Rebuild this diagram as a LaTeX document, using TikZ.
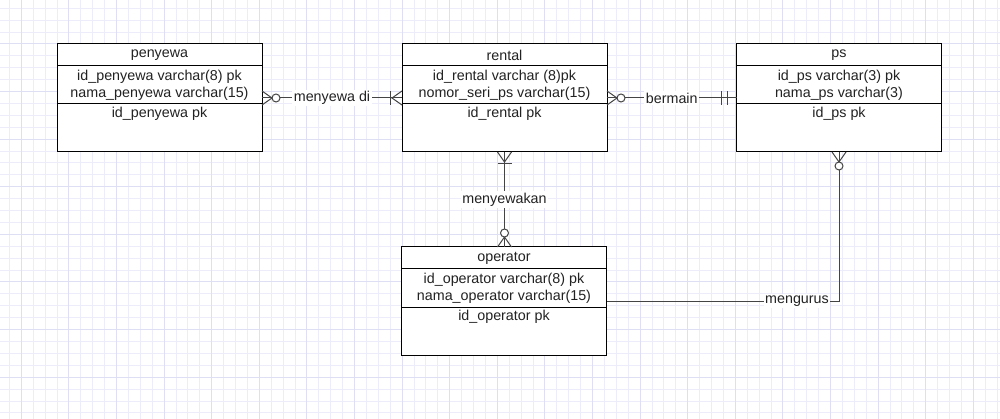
\documentclass[tikz,border=0pt]{standalone}
\usepackage{fontspec}
\setmainfont{Liberation Sans}
\usetikzlibrary{calc}
\definecolor{gridminor}{RGB}{236,236,250}
\definecolor{gridmajor}{RGB}{222,222,244}
\definecolor{ink}{RGB}{34,34,34}
\definecolor{connc}{RGB}{68,68,68}
\tikzset{
  txt/.style={font=\fontsize{14.3}{17}\selectfont, text=ink, align=center, inner sep=0pt},
  entity/.style={draw=black, fill=white, line width=1pt, minimum width=205pt, minimum height=108pt, inner sep=0pt, outer sep=0pt},
  box/.style={draw=black, line width=1pt},
  conn/.style={draw=connc, line width=1pt},
  lbl/.style={txt, fill=white, inner sep=1.5pt},
  zmany/.pic={\draw[conn] (0,-7) -- (10,0) -- (0,7); \draw[conn, fill=white] (14,0) circle (4pt);},
  omany/.pic={\draw[conn] (0,-7) -- (10,0) -- (0,7); \draw[conn] (12,-7) -- (12,7);},
  mone/.pic={\draw[conn] (9,-7) -- (9,7); \draw[conn] (15,-7) -- (15,7);}
}
\newcommand\erentity[5]{%
  \node[entity] (#1) at (#2) {};
  \draw[box] ($(#1.north west)+(0,22)$) -- ($(#1.north east)+(0,22)$);
  \draw[box] ($(#1.north west)+(0,60)$) -- ($(#1.north east)+(0,60)$);
  \node[txt] (#1-title) at ($(#1.north)+(0,11)$) {#3};
  \node[txt] (#1-fields) at ($(#1.north)+(0,41)$) {#4};
  \node[txt] (#1-key) at ($(#1.north)+(0,70)$) {#5};
}
\begin{document}
\begin{tikzpicture}[x=1pt, y=-1pt]
  \useasboundingbox (0,0) rectangle (1000,419);
  \fill[white] (0,0) rectangle (1000,419);
  % grid
  \foreach \i in {0,...,83} \draw[gridminor, line width=1pt] ({9.4+11.9*\i},0) -- ++(0,419);
  \foreach \i in {0,...,34} \draw[gridminor, line width=1pt] (0,{8.3+11.9*\i}) -- ++(1000,0);
  \foreach \i in {0,...,20} \draw[gridmajor, line width=1pt] ({21.3+47.6*\i},0) -- ++(0,419);
  \foreach \i in {0,...,7} \draw[gridmajor, line width=1pt] (0,{44+47.6*\i}) -- ++(1000,0);

  % entities
  \erentity{penyewa}{159.5,98}{penyewa}{id\_penyewa varchar(8) pk\\nama\_penyewa varchar(15)}{id\_penyewa pk}
  \erentity{rental}{504.5,98}{rental}{id\_rental varchar (8)pk\\nomor\_seri\_ps varchar(15)}{id\_rental pk}
  \erentity{ps}{839,98}{ps}{id\_ps varchar(3) pk\\nama\_ps varchar(3)}{id\_ps pk}
  \erentity{operator}{504,301}{operator}{id\_operator varchar(8) pk\\nama\_operator varchar(15)}{id\_operator pk}

  % connectors
  \draw[conn] (penyewa.east) -- node[lbl] (l1) {menyewa di} (rental.west);
  \pic at (penyewa.east) {zmany};
  \pic[rotate=180] at (rental.west) {omany};

  \draw[conn] (rental.east) -- node[lbl] (l2) {bermain} (ps.west);
  \pic at (rental.east) {zmany};
  \pic[rotate=180] at (ps.west) {mone};

  \draw[conn] (rental.south) -- node[lbl] (l3) {menyewakan} (rental.south |- operator.north);
  \pic[rotate=-90] at (rental.south) {omany};
  \pic[rotate=90] at (rental.south |- operator.north) {zmany};

  \coordinate (corner) at (ps.south |- operator.east);
  \draw[conn] (ps.south) -- (corner) -- (operator.east);
  \node[lbl] (l4) at ($(corner)+(-42,0)$) {mengurus};
  \pic[rotate=-90] at (ps.south) {zmany};
\end{tikzpicture}
\end{document}
